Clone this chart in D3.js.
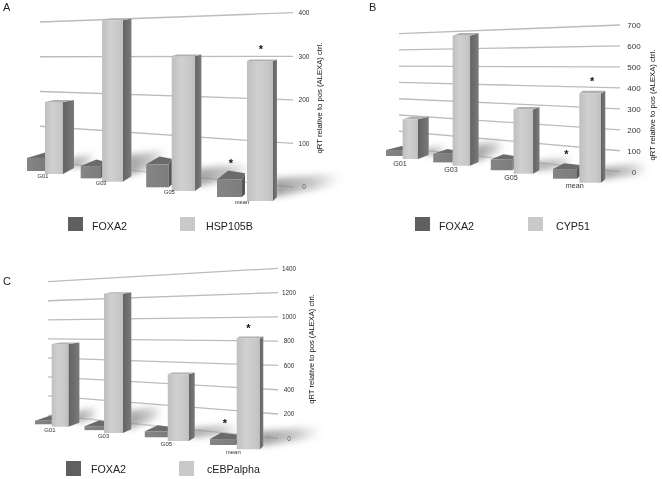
<!DOCTYPE html>
<html><head><meta charset="utf-8">
<script src="https://cdn.jsdelivr.net/npm/d3@7"></script>
<style>html,body{margin:0;padding:0;background:#fff}svg{display:block;font-family:"Liberation Sans",Arial,sans-serif}</style>
</head><body><svg id="c" width="662" height="479"></svg>
<script>
const categories = ["G01","G03","G05","mean"];
const foxa2A = [35,30,52,37];
const hsp105b = [192,395,305,295];
const foxa2B = [34,45,50,41];
const cyp51 = [227,667,299,380];
const foxa2C = [35,35,49,45];
const cebpAlpha = [788,1222,542,841];
const ticksA = [0,100,200,300,400];
const ticksB = [0,100,200,300,400,500,600,700];
const ticksC = [0,200,400,600,800,1000,1200,1400];
const axisTitle = "qRT relative to pos (ALEXA) ctrl.";

const panels = [
 {letter:"A",lp:[3,11],series:[foxa2A,hsp105b],names:["FOXA2","HSP105B"],ticks:ticksA,
  lineX:[40,293],leftY:[161,22],rightY:[187,12.7],tickX:304,tickFs:6.5,
  lightX:[45,247],lightW:[18,26],side:[11,4],base:[174,201],k:[.375,.475],bDrop:[6,4],topRise:[2,1.5],
  darkX:[27,217],darkW:[18,25],darkBase:[171,197],dRise:[5.5,9],dSkew:[18,11],
  catX:[43,242],catY:[176,202],catFs:5.8,
  title:[322,98],titleFs:7.7,
  leg:{y:217,h:14,x:[68,180],w:15,tx:[92,206],by:230,fs:10.7},
  star:[[1.5,-6],[1,-13]],shadowLen:[24,66]},
 {letter:"B",lp:[369,11],series:[foxa2B,cyp51],names:["FOXA2","CYP51"],ticks:ticksB,
  lineX:[399,620],leftY:[147.5,33.7],rightY:[171.7,25],tickX:634,tickFs:8,
  lightX:[402.7,579.3],lightW:[15.3,21.7],side:[10.7,4.3],base:[159,182.7],k:[.175,.235],bDrop:[4,3.4],topRise:[2.6,2.6],
  darkX:[386,553],darkW:[16.7,24],darkBase:[156,178.7],dRise:[4,5.7],dSkew:[16,11],
  catX:[400,574.7],catY:[163,185.7],catFs:7.2,
  title:[655,105],titleFs:7.7,
  leg:{y:217,h:14,x:[415,528],w:15,tx:[439,556],by:230,fs:10.7},
  star:[[1.5,-5],[2,-13]],shadowLen:[20,46]},
 {letter:"C",lp:[3,285],series:[foxa2C,cebpAlpha],names:["FOXA2","cEBPalpha"],ticks:ticksC,
  lineX:[48,278],leftY:[415,281.7],rightY:[438.3,268.3],tickX:289,tickFs:6.4,
  lightX:[51.7,236.7],lightW:[16.7,23.3],side:[11,3.3],base:[426.7,449.3],k:[.105,.132],bDrop:[4,3.3],topRise:[1.5,1.7],
  darkX:[35,210],darkW:[17.3,26],darkBase:[424.3,445],dRise:[5.6,6.3],dSkew:[17,11],
  catX:[50,233.3],catY:[430,452.3],catFs:6,
  title:[314,349],titleFs:7.6,
  leg:{y:461,h:15,x:[66,179],w:15,tx:[91,207],by:473,fs:10.7},
  star:[[2,-6],[0,-11]],shadowLen:[22,60]}
];

const svg = d3.select("#c");
const defs = svg.append("defs");
defs.append("filter").attr("id","blur").attr("x","-50%").attr("y","-80%").attr("width","200%").attr("height","260%")
  .append("feGaussianBlur").attr("stdDeviation",3);
function grad(id,stops){
  const g=defs.append("linearGradient").attr("id",id);
  stops.forEach(([o,c,a])=>g.append("stop").attr("offset",o).attr("stop-color",c).attr("stop-opacity",a===undefined?1:a));
}
grad("lightFront",[[0,"#bfbfbf"],[.4,"#d0d0d0"],[.8,"#c8c8c8"],[1,"#bdbdbd"]]);
grad("lightSide",[[0,"#626262"],[1,"#7a7a7a"]]);
grad("darkFront",[[0,"#858585"],[1,"#7c7c7c"]]);
grad("castShadow",[[0,"#7a7a7a",.75],[.6,"#8a8a8a",.45],[1,"#9a9a9a",0]]);

const root = svg.append("g").style("filter","blur(0.45px)");

panels.forEach(p=>{
  const g = root.append("g");
  const idx = d3.scaleLinear().domain([0,3]);
  const pw = (r,e=1.15) => d3.scalePow().exponent(e).domain([0,3]).range(r);
  const lin = r => idx.copy().range(r);
  const maxT = d3.max(p.ticks);
  const yL = d3.scaleLinear().domain([0,maxT]).range(p.leftY);
  const yR = d3.scaleLinear().domain([0,maxT]).range(p.rightY);

  g.append("g").selectAll("line").data(p.ticks).join("line")
    .attr("x1",p.lineX[0]).attr("x2",p.lineX[1])
    .attr("y1",d=>yL(d)).attr("y2",d=>yR(d))
    .attr("stroke",d=>d===0?"#cfcfcf":"#bcbcbc").attr("stroke-width",1.3);
  g.append("g").selectAll("text").data(p.ticks).join("text")
    .attr("x",p.tickX).attr("y",d=>yR(d)+p.tickFs*.36)
    .attr("text-anchor","middle").attr("font-size",p.tickFs).attr("fill","#333").text(d=>d);

  const lX=pw(p.lightX), lW=lin(p.lightW), sd=lin(p.side), bs=pw(p.base), k=lin(p.k),
        bD=lin(p.bDrop), tR=lin(p.topRise), dX=pw(p.darkX), dW=lin(p.darkW), dB=pw(p.darkBase),
        dR=lin(p.dRise), dS=lin(p.dSkew), cX=pw(p.catX,1.12), cY=pw(p.catY), shL=lin(p.shadowLen);

  const poly=(sel,pts,fill)=>sel.append("polygon").attr("points",pts.map(q=>q.join(",")).join(" ")).attr("fill",fill);

  // soft cast shadows, length and lift derived from each column
  const shG=g.append("g");
  categories.forEach((c,i)=>{
    const R=lX(i)+lW(i)+sd(i)-3, y=bs(i)-bD(i), hh=p.series[1][i]*k(i)*.13, L=shL(i);
    poly(shG,[[R,y-hh],[R+L,y-hh-6],[R+L,y-hh+6],[R,y]],"url(#castShadow)").attr("filter","url(#blur)");
  });

  categories.forEach((c,i)=>{
    const bar=g.append("g").attr("class","bar");
    const dv=p.series[0][i], dx=dX(i), dw=dW(i), db=dB(i), dt=db-dv*k(i), dr=dR(i), dsk=dS(i), ds=3;
    poly(bar,[[dx+dw,dt],[dx+dw+ds,dt-dr*.7],[dx+dw+ds,db-3],[dx+dw,db]],"#565656");
    poly(bar,[[dx,dt],[dx+dsk,dt-dr],[dx+dw+ds,dt-dr*.7],[dx+dw,dt]],"#6b6b6b");
    poly(bar,[[dx,dt],[dx+dw,dt],[dx+dw,db],[dx,db]],"url(#darkFront)");
    const lv=p.series[1][i], x=lX(i), w=lW(i), s=sd(i), b=bs(i), t=b-lv*k(i), r=tR(i), drop=bD(i);
    poly(bar,[[x+w,t],[x+w+s,t-r],[x+w+s,b-drop],[x+w,b]],"url(#lightSide)");
    poly(bar,[[x,t],[x+s*.8,t-r],[x+w+s,t-r],[x+w,t]],"#b0b0b0");
    poly(bar,[[x,t],[x+w,t],[x+w,b],[x,b]],"url(#lightFront)");
    g.append("text").attr("x",cX(i)).attr("y",cY(i)+p.catFs*.36)
      .attr("text-anchor","middle").attr("font-size",p.catFs).attr("fill","#333").text(c);
    if(i===3){
      g.append("text").attr("x",x+w/2+p.star[1][0]).attr("y",t+p.star[1][1]+5).attr("text-anchor","middle")
        .attr("font-size",11).attr("font-weight","bold").attr("fill","#111").text("*");
      g.append("text").attr("x",dx+dw/2+p.star[0][0]).attr("y",dt+p.star[0][1]-6).attr("text-anchor","middle")
        .attr("font-size",11).attr("font-weight","bold").attr("fill","#111").text("*");
    }
  });

  g.append("text").attr("transform",`translate(${p.title[0]},${p.title[1]}) rotate(-90)`)
    .attr("text-anchor","middle").attr("font-size",p.titleFs).attr("fill","#111").text(axisTitle);
  g.append("text").attr("x",p.lp[0]).attr("y",p.lp[1]).attr("font-size",11).attr("fill","#222").text(p.letter);
  const lc=["#5f5f5f","#c9c9c9"];
  p.names.forEach((n,j)=>{
    g.append("rect").attr("x",p.leg.x[j]).attr("y",p.leg.y).attr("width",p.leg.w).attr("height",p.leg.h).attr("fill",lc[j]);
    g.append("text").attr("x",p.leg.tx[j]).attr("y",p.leg.by).attr("font-size",p.leg.fs).attr("fill","#222").text(n);
  });
});
</script></body></html>
